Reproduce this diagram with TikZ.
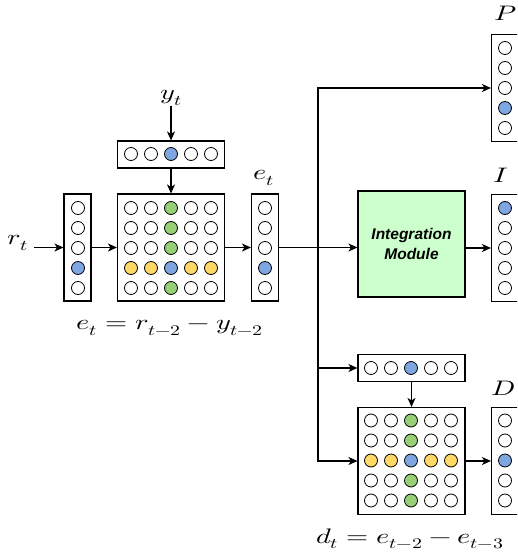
\documentclass[tikz,border=0pt]{standalone}
\usepackage{fontspec}
\usepackage{unicode-math}
\usepackage{graphicx}
\newfontfamily\modfont{Liberation Sans}
\usetikzlibrary{arrows.meta}
\definecolor{cblue}{HTML}{7EA6E0}
\definecolor{cgreen}{HTML}{97D077}
\definecolor{cyellow}{HTML}{FFD966}
\definecolor{cmod}{HTML}{CCFFCC}

% wide math labels
\newcommand\wmath[1]{\scalebox{1.35}[1]{$#1$}}

% 5x5 grid of circles: centre x, centre y, index of the highlighted row
\newcommand\gridcircles[3]{%
  \foreach \r in {0,...,4}{\foreach \c in {0,...,4}{%
    \ifnum\c=2 \ifnum\r=#3 \def\fc{cblue}\else\def\fc{cgreen}\fi
    \else \ifnum\r=#3 \def\fc{cyellow}\else\def\fc{white}\fi\fi
    \draw[dot,fill=\fc] (#1+20*\c-40,#2+20*\r-40) circle[radius=6.5];
  }}}
% column of five circles: centre x, centre y, index of the blue one
\newcommand\colcircles[3]{%
  \foreach \r in {0,...,4}{%
    \ifnum\r=#3 \def\fc{cblue}\else\def\fc{white}\fi
    \draw[dot,fill=\fc] (#1,#2+20*\r-40) circle[radius=6.5];
  }}
% row of five circles: centre x, centre y, index of the blue one
\newcommand\rowcircles[3]{%
  \foreach \c in {0,...,4}{%
    \ifnum\c=#3 \def\fc{cblue}\else\def\fc{white}\fi
    \draw[dot,fill=\fc] (#1+20*\c-40,#2) circle[radius=6.5];
  }}

\begin{document}
\begin{tikzpicture}[x=1pt,y=-1pt,
  box/.style={draw,line width=1.1pt,fill=white,inner sep=0pt},
  vbox/.style={box,minimum width=27pt,minimum height=107pt},
  hbox/.style={box,minimum width=107pt,minimum height=27pt},
  gbox/.style={box,minimum width=107pt,minimum height=107pt},
  dot/.style={draw,line width=0.8pt},
  arr/.style={line width=1.1pt,-{Stealth[length=9pt,width=8pt,inset=2.5pt]}},
  lbl/.style={font=\fontsize{21}{25}\selectfont,inner sep=0pt},
  modbox/.style={draw,line width=1.1pt,fill=cmod,minimum width=107pt,minimum height=106pt,
    align=center,font=\modfont\bfseries\itshape\fontsize{15.5}{19.5}\selectfont}]
\clip (0,0) rectangle (517,554);
\fill[white] (0,0) rectangle (517,554);

% boxes
\node[vbox] (rbox) at (77.5,247.5) {};
\node[gbox] (grid1) at (171,247.5) {};
\node[hbox] (ybox) at (171,154.5) {};
\node[vbox] (ebox) at (265,247.5) {};
\node[vbox] (Pbox) at (505,88) {};
\node[vbox] (Ibox) at (505,248) {};
\node[modbox] (integ) at (411.5,244) {Integration\\Module};
\node[hbox] (dvec) at (411.5,368) {};
\node[gbox] (grid2) at (411.5,461) {};
\node[vbox] (Dbox) at (505,461) {};

% circles
\colcircles{78}{248}{3}
\gridcircles{171}{248}{3}
\rowcircles{171}{154}{2}
\colcircles{265}{248}{3}
\colcircles{505}{88}{3}
\colcircles{505}{248}{0}
\rowcircles{411}{368}{2}
\gridcircles{411}{460.5}{2}
\colcircles{505}{460.5}{2}

% labels
\node[lbl] (rt) at (18,243) {\wmath{r_t}};
\node[lbl] (yt) at (171,98) {\wmath{y_t}};
\node[lbl] (et) at (264,178) {\wmath{e_t}};
\node[lbl] (P) at (506,13) {\wmath{P}};
\node[lbl] (I) at (501,175) {\wmath{I}};
\node[lbl] (D) at (503,388) {\wmath{D}};
\node[lbl] (eq1) at (170,328) {\wmath{e_t = r_{t-2} - y_{t-2}}};
\node[lbl] (eq2) at (410,539) {\wmath{d_t = e_{t-2} - e_{t-3}}};

% connectors
\coordinate (split) at (318,248);
\draw[arr] ([xshift=5pt]rt.east |- rbox.west) -- (rbox.west);
\draw[arr] (yt.south) -- (ybox.north);
\draw[arr] (ybox.south) -- (grid1.north);
\draw[arr] (rbox.east) -- (grid1.west);
\draw[arr] (grid1.east) -- (ebox.west);
\draw[arr] (ebox.east) -- (integ.west |- ebox.east);
\draw[arr] (integ.east |- Ibox.west) -- (Ibox.west);
\draw[arr] (split) |- (Pbox.west);
\draw[arr] (split) |- (grid2.west);
\draw[arr] (split |- dvec.west) -- (dvec.west);
\draw[arr] (dvec.south) -- (grid2.north);
\draw[arr] (grid2.east) -- (Dbox.west);
\end{tikzpicture}
\end{document}
